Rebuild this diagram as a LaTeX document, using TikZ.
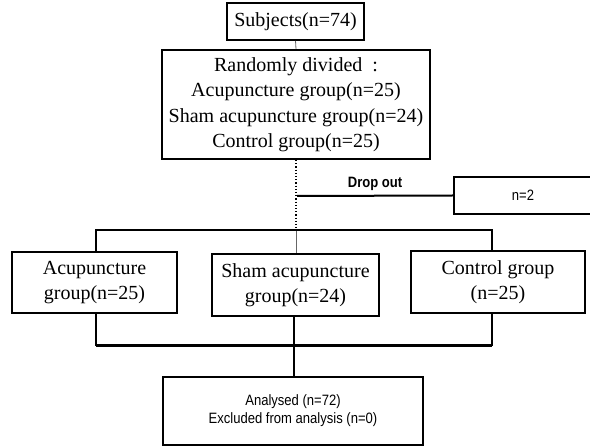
\documentclass[tikz,border=0pt]{standalone}
\usepackage{fontspec}
\setmainfont{Liberation Serif}
\setsansfont{Liberation Sans}
\newfontfamily\narrowsans[FakeStretch=0.87]{Liberation Sans}
\begin{document}
\begin{tikzpicture}[x=1pt,y=-1pt,
  serifbox/.style={draw, line width=1.6pt, inner sep=0pt, align=center,
    font=\fontsize{20}{25.5}\selectfont},
  sansbox/.style={draw, line width=1.4pt, inner sep=0pt, align=center,
    font=\narrowsans\fontsize{15}{18}\selectfont},
  thinline/.style={line width=0.8pt, black!60},
  midline/.style={line width=1.5pt},
  heavyline/.style={line width=2.6pt},
  heaviest/.style={line width=3pt}]
\useasboundingbox (0,0) rectangle (590,446);
\node[serifbox, minimum width=137pt, minimum height=37pt] (subj) at (295.5,21.5) {Subjects(n=74)};
\node[serifbox, line width=2pt, minimum width=268pt, minimum height=109pt] (rand) at (296,104.5)
  {Randomly divided\ \ :\\Acupuncture group(n=25)\\Sham acupuncture group(n=24)\\Control group(n=25)};
\node[sansbox, line width=1.8pt, minimum width=138pt, minimum height=37pt] (drop) at (523,195.5) {n=2};
\node[serifbox, minimum width=165pt, minimum height=61pt] (acu) at (94.5,282.5) {Acupuncture\\group(n=25)};
\node[serifbox, minimum width=167pt, minimum height=62pt] (sham) at (295.5,285) {Sham acupuncture\\group(n=24)};
\node[serifbox, minimum width=174pt, minimum height=62pt] (ctrl) at (498,282) {Control group\\(n=25)};
\node[sansbox, minimum width=260pt, minimum height=68pt] (anal) at (293,411) {Analysed (n=72)\\Excluded from analysis (n=0)};
\coordinate (jt) at (296,230);
\coordinate (dp) at (297,196);
\coordinate (tl) at (96,230);
\coordinate (tr) at (492,230);
\coordinate (bl) at (96,346);
\coordinate (br) at (492,346);
\coordinate (bm) at (294,346);
\draw[thinline] (subj.south) -- (rand.north);
\draw[line width=1.2pt, dotted] (rand.south -| jt) -- (jt);
\draw[thinline] (jt) -- (sham.north -| jt);
\draw[line width=2pt] (dp) -- node[above=0.5pt, font=\narrowsans\bfseries\fontsize{15}{17}\selectfont] (dlab) {Drop out} (drop.west);
\draw[midline] (acu.north -| tl) -- (tl) -- (tr) -- (ctrl.north -| tr);
\draw[heavyline] (acu.south -| bl) -- (bl);
\draw[heavyline] (ctrl.south -| br) -- (br);
\draw[heaviest] (bl) -- (br);
\draw[heavyline] (sham.south -| bm) -- (bm) -- (anal.north -| bm);
\end{tikzpicture}
\end{document}
